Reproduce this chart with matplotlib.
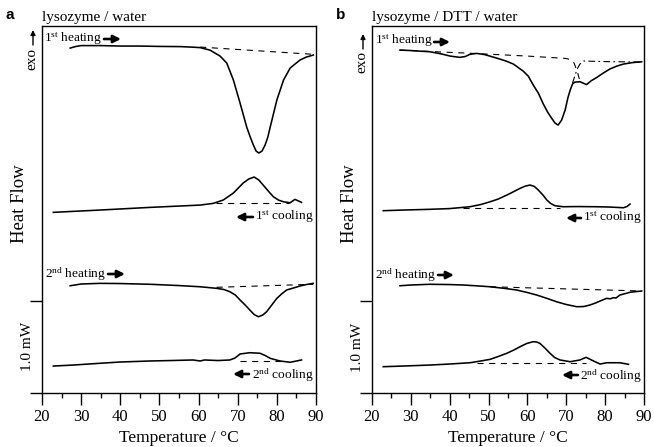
import matplotlib
matplotlib.use('Agg')
import matplotlib.pyplot as plt
from matplotlib.ticker import MultipleLocator

plt.rcParams['font.family'] = ['Liberation Serif', 'DejaVu Serif']
plt.rcParams['mathtext.fontset'] = 'custom'
plt.rcParams['mathtext.rm'] = 'Liberation Serif'
plt.rcParams['mathtext.it'] = 'Liberation Serif:italic'

# ---------------- data (temperature in °C, heat flow in mW, offset traces) -------------
# Panel a : lysozyme / water
a_h1_T = [27.2, 28.5, 30, 35, 40, 45, 50, 55.3, 58, 60.4, 62.9, 65.5, 67.2, 68.9, 70.6, 72.3,
          73.2, 74, 74.7, 75.4, 76.2, 77, 77.7, 78.3, 80, 81.7, 83.4, 85.9, 87.5, 89.3]
a_h1_Q = [3.750, 3.766, 3.777, 3.777, 3.772, 3.772, 3.768, 3.766, 3.761, 3.755, 3.728, 3.663,
          3.587, 3.402, 3.152, 2.891, 2.783, 2.696, 2.630, 2.609, 2.630, 2.696, 2.783, 2.891,
          3.185, 3.402, 3.533, 3.620, 3.652, 3.674]
a_h1_base_T = [60.4, 89.3]
a_h1_base_Q = [3.761, 3.682]

a_c1_T = [22.9, 34.8, 47.6, 55.3, 60.4, 63.8, 66.3, 68.9, 71.4, 72.8, 74.2, 75.4, 76.5, 77.8,
          79.1, 80.4, 81.7, 83.4, 84.6, 85.3, 86.3]
a_c1_Q = [1.964, 1.989, 2.018, 2.033, 2.043, 2.062, 2.098, 2.174, 2.283, 2.326, 2.348, 2.315,
          2.261, 2.196, 2.134, 2.098, 2.079, 2.068, 2.105, 2.092, 2.073]
a_c1_base_T = [64.5, 83.0]
a_c1_base_Q = [2.062, 2.062]

a_h2_T = [27.2, 30, 34.8, 40, 47.6, 55, 60.4, 64.6, 66.5, 68, 69.4, 70.6, 71.9, 73.1, 74.2,
          75.3, 76.4, 77.4, 78.7, 80, 81.2, 82.5, 84.2, 85.9, 87.5, 89.3]
a_h2_Q = [1.166, 1.185, 1.192, 1.190, 1.182, 1.168, 1.155, 1.138, 1.125, 1.101, 1.065, 1.011,
          0.957, 0.902, 0.853, 0.829, 0.848, 0.884, 0.957, 1.029, 1.076, 1.120, 1.141, 1.163,
          1.179, 1.192]
a_h2_base_T = [64.6, 89.3]
a_h2_base_Q = [1.149, 1.182]

a_c2_T = [22.9, 28, 34.8, 40, 47.6, 53, 58.6, 60.4, 61.5, 65, 68, 69.3, 70.6, 73.1, 75.7, 77,
          78.3, 80.8, 83.4, 85, 86.3]
a_c2_Q = [0.293, 0.304, 0.323, 0.337, 0.348, 0.353, 0.359, 0.348, 0.359, 0.353, 0.359, 0.380,
          0.424, 0.438, 0.432, 0.408, 0.377, 0.348, 0.334, 0.348, 0.359]
a_c2_base_T = [70.6, 81.9]
a_c2_base_Q = [0.351, 0.351]

# Panel b : lysozyme / DTT / water
b_h1_T = [27.2, 30, 34.9, 38, 40.1, 42.6, 44, 45.2, 46.9, 49, 52.1, 54.5, 56.4, 58.9, 60.2,
          61.5, 62.8, 64.1, 65.2, 66.2, 67.1, 67.9, 68.8, 69.7, 70.4, 71, 71.6, 72.2, 73.5,
          74.3, 75.2, 76.5, 77.8, 79.5, 81.2, 83, 84.7, 87, 89.4]
b_h1_Q = [3.728, 3.723, 3.710, 3.685, 3.663, 3.649, 3.658, 3.682, 3.692, 3.679, 3.641, 3.609,
          3.576, 3.500, 3.446, 3.348, 3.261, 3.141, 3.054, 2.989, 2.935, 2.913, 2.967, 3.076,
          3.207, 3.293, 3.359, 3.380, 3.384, 3.370, 3.353, 3.397, 3.429, 3.478, 3.522, 3.554,
          3.576, 3.592, 3.601]
b_h1_baseA_T = [27.2, 47, 60, 69.7, 71.2, 72, 72.7, 73.3, 73.6]
b_h1_baseA_Q = [3.728, 3.690, 3.663, 3.638, 3.625, 3.587, 3.511, 3.424, 3.380]
b_h1_baseB_T = [71.6, 72.2, 72.8, 73.5, 74.5, 80, 89.4]
b_h1_baseB_Q = [3.370, 3.446, 3.522, 3.576, 3.609, 3.603, 3.598]

b_c1_T = [22.9, 28, 34.9, 40, 45.2, 48, 50.4, 52.5, 54.7, 56.5, 58.1, 59.5, 60.7, 61.8, 62.8,
          64, 65, 66, 67.1, 69.2, 73, 77.8, 81, 84.7, 85.6, 86.4]
b_c1_Q = [1.982, 1.989, 1.997, 2.005, 2.025, 2.049, 2.079, 2.109, 2.152, 2.190, 2.225, 2.250,
          2.261, 2.245, 2.207, 2.152, 2.098, 2.060, 2.036, 2.025, 2.027, 2.025, 2.022, 2.014,
          2.027, 2.054]
b_c1_base_T = [43.5, 68.4]
b_c1_base_Q = [2.014, 2.014]

b_h2_T = [27.2, 30, 34.9, 40, 43.5, 47, 50.4, 54, 57.2, 60, 62.4, 65, 67.5, 70, 72.7, 74.5,
          76.1, 77.5, 78.7, 80.4, 81.3, 82.1, 82.8, 83.8, 86.4, 89.4]
b_h2_Q = [1.166, 1.174, 1.182, 1.179, 1.174, 1.165, 1.155, 1.138, 1.120, 1.092, 1.065, 1.029,
          0.992, 0.962, 0.938, 0.940, 0.957, 0.978, 1.000, 1.029, 1.024, 1.036, 1.033, 1.065,
          1.095, 1.109]
b_h2_base_T = [50.4, 89.4]
b_h2_base_Q = [1.155, 1.109]

b_c2_T = [22.9, 28, 34.9, 40, 45.2, 48, 50.4, 52.5, 54.7, 56.5, 58.1, 59.8, 61.5, 62.4, 63.2,
          64.5, 65.8, 67, 68.4, 71, 73.5, 75.1, 77, 78.7, 80.4, 83.8, 86]
b_c2_Q = [0.286, 0.293, 0.304, 0.315, 0.329, 0.348, 0.366, 0.397, 0.432, 0.467, 0.503, 0.538,
          0.558, 0.554, 0.540, 0.489, 0.432, 0.386, 0.359, 0.340, 0.359, 0.388, 0.348, 0.315,
          0.329, 0.329, 0.312]
b_c2_base_T = [46.9, 75.2]
b_c2_base_Q = [0.329, 0.329]

x_ticks = [20, 30, 40, 50, 60, 70, 80, 90]
scale_bar_ticks = [0, 1.0]

# ---------------- figure -------------
W, H = 654, 447
fig = plt.figure(figsize=(W / 100, H / 100), dpi=100)


def fp(x, y):
    return (x / W, 1 - y / H)


def make_axes(left, right):
    ax = fig.add_axes([left / W, (H - 393) / H, (right - left) / W, (393 - 26) / H])
    ax.set_xlim(20, 90)
    ax.set_ylim(0, 3.99)
    ax.set_xticks(x_ticks)
    ax.xaxis.set_minor_locator(MultipleLocator(5))
    ax.set_yticks(scale_bar_ticks)
    ax.set_yticklabels([])
    ax.tick_params(axis='both', which='major', direction='out', length=8.6, width=1.0,
                   labelsize=12, pad=3)
    ax.tick_params(axis='x', which='minor', direction='out', length=3.8, width=1.0)
    for s in ax.spines.values():
        s.set_linewidth(1.0)
    return ax


axa = make_axes(42, 316)
axb = make_axes(372, 644)

LW = 1.15
DASH = dict(color='black', lw=0.8, linestyle=(0, (5.5, 5)))

axa.plot(a_h1_T, a_h1_Q, color='black', lw=LW)
axa.plot(a_h1_base_T, a_h1_base_Q, **DASH)
axa.plot(a_c1_T, a_c1_Q, color='black', lw=LW)
axa.plot(a_c1_base_T, a_c1_base_Q, **DASH)
axa.plot(a_h2_T, a_h2_Q, color='black', lw=LW)
axa.plot(a_h2_base_T, a_h2_base_Q, **DASH)
axa.plot(a_c2_T, a_c2_Q, color='black', lw=LW)
axa.plot(a_c2_base_T, a_c2_base_Q, **DASH)

axb.plot(b_h1_T, b_h1_Q, color='black', lw=LW)
axb.plot(b_h1_baseA_T, b_h1_baseA_Q, **DASH)
axb.plot(b_h1_baseB_T, b_h1_baseB_Q, color='black', lw=0.8, linestyle=(0, (6, 3, 1.5, 3)))
axb.plot(b_c1_T, b_c1_Q, color='black', lw=LW)
axb.plot(b_c1_base_T, b_c1_base_Q, **DASH)
axb.plot(b_h2_T, b_h2_Q, color='black', lw=LW)
axb.plot(b_h2_base_T, b_h2_base_Q, **DASH)
axb.plot(b_c2_T, b_c2_Q, color='black', lw=LW)
axb.plot(b_c2_base_T, b_c2_base_Q, **DASH)


def arrow(x0, y0, x1, y1, ms=11, lw=1.9):
    fig.patches.append(matplotlib.patches.FancyArrowPatch(
        fp(x0, y0), fp(x1, y1), transform=fig.transFigure, arrowstyle='-|>',
        mutation_scale=ms, lw=lw, color='black', shrinkA=0, shrinkB=0))


def label_set(dx, width, title, letter, exo_y, hf_y, mw_y):
    fig.text(*fp(6 + dx, 15), letter, family=['Liberation Sans', 'DejaVu Sans'],
             fontweight='bold', fontsize=11, ha='left', va='center')
    fig.text(*fp(42 + dx, 17), title, fontsize=11, ha='left', va='center')
    fig.text(*fp(32 + dx, exo_y), 'exo', fontsize=11, rotation=90, ha='center', va='center')
    fig.text(*fp(19 + dx, hf_y), 'Heat Flow', fontsize=13.5, rotation=90,
             ha='center', va='center')
    fig.text(*fp(27.5 + dx, mw_y), '1.0 mW', fontsize=11, rotation=90,
             ha='center', va='center')
    fig.text(*fp(dx + 42 + width / 2, 438), 'Temperature / °C', fontsize=12.5,
             ha='center', va='center')


label_set(0, 274, 'lysozyme / water', 'a', 59, 204, 346)
label_set(330, 272, 'lysozyme / DTT / water', 'b', 62, 204, 347)

# exo arrows (pointing up)
arrow(33, 45, 33, 30, ms=7, lw=1.0)
arrow(363, 49, 363, 34, ms=7, lw=1.0)

FS = 9.6
# curve labels, panel a
fig.text(*fp(44, 39), r'1$^{\mathrm{st}}$ heating', fontsize=FS, ha='left', va='center')
arrow(104, 39, 121, 39)
fig.text(*fp(314, 217), r'1$^{\mathrm{st}}$ cooling', fontsize=FS, ha='right', va='center')
arrow(253, 217, 236, 217)
fig.text(*fp(45, 274), r'2$^{\mathrm{nd}}$ heating', fontsize=FS, ha='left', va='center')
arrow(108, 274, 125, 274)
fig.text(*fp(314, 375), r'2$^{\mathrm{nd}}$ cooling', fontsize=FS, ha='right', va='center')
arrow(249, 374, 233, 374)

# curve labels, panel b
fig.text(*fp(375, 41), r'1$^{\mathrm{st}}$ heating', fontsize=FS, ha='left', va='center')
arrow(434, 42, 450, 42)
fig.text(*fp(642, 218), r'1$^{\mathrm{st}}$ cooling', fontsize=FS, ha='right', va='center')
arrow(581, 218, 566, 218)
fig.text(*fp(375, 275), r'2$^{\mathrm{nd}}$ heating', fontsize=FS, ha='left', va='center')
arrow(438, 275, 454, 275)
fig.text(*fp(642, 376), r'2$^{\mathrm{nd}}$ cooling', fontsize=FS, ha='right', va='center')
arrow(578, 375, 562, 375)

fig.savefig('out.png', dpi=100)
